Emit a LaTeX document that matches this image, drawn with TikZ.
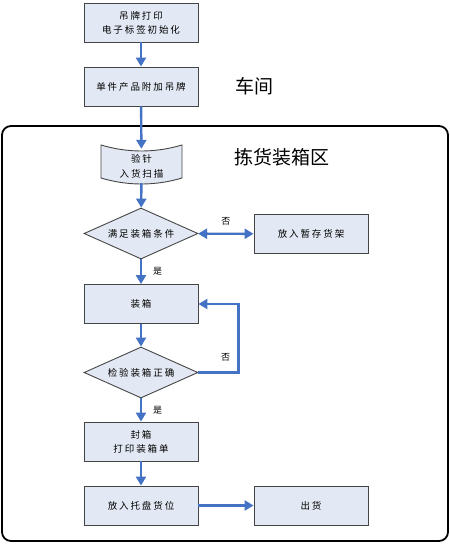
\documentclass[tikz,border=0pt]{standalone}
\usepackage{fontspec}
\usetikzlibrary{arrows.meta,shapes.geometric}
\newfontfamily\cjk[LetterSpace=20]{Noto Sans CJK SC}
\newfontfamily\cjkbig{Noto Sans CJK SC}
\definecolor{boxfill}{HTML}{E3E9F4}
\definecolor{boxline}{HTML}{454545}
\definecolor{flowblue}{HTML}{4472C4}

\begin{document}
\begin{tikzpicture}[x=1pt, y=-1pt,
    stepbox/.style={draw=boxline, fill=boxfill, line width=0.9pt, minimum width=114pt, minimum height=39pt,
        inner sep=0pt, align=center, font=\cjk\fontsize{9.5}{14}\selectfont},
    choice/.style={stepbox, diamond, aspect=2.2, minimum height=51pt},
    flow/.style={draw=flowblue, line width=2.4pt, -{Triangle[length=9pt,width=10pt]}},
    yesno/.style={font=\cjk\fontsize{9}{9}\selectfont, inner sep=0pt},
    area/.style={font=\cjkbig\fontsize{19}{19}\selectfont}]
    \useasboundingbox[fill=white] (0,0) rectangle (450,544);

    % Workshop
    \node[stepbox] (tag) at (141,22.5) {吊牌打印\\电子标签初始化};
    \node[stepbox] (attach) at (141,86.5) {单件产品附加吊牌};
    \node[area] (shop) at (254,86) {车间};

    % Picking and packing area
    \draw[line width=1.8pt, rounded corners=9pt] (2,126) rectangle (448,541);
    \node[area] (zone) at (282,157) {拣货装箱区};

    % Scan (tape shape)
    \draw[draw=boxline, fill=boxfill, line width=0.9pt] (101,145) .. controls (128,153) and (155,153) .. (182,145)
        -- (182,178) .. controls (155,186) and (128,186) .. (101,178) -- cycle;
    \node[align=center, font=\cjk\fontsize{9.5}{15}\selectfont, minimum width=81pt, minimum height=34pt, inner sep=0pt]
        (scan) at (141.5,166) {验针\\入货扫描};

    \node[choice] (fit) at (141,233.5) {满足装箱条件};
    \node[stepbox] (shelf) at (311,234) {放入暂存货架};
    \node[stepbox] (pack) at (141,304) {装箱};
    \node[choice] (check) at (141,372.5) {检验装箱正确};
    \node[stepbox] (seal) at (141,441.5) {封箱\\打印装箱单};
    \node[stepbox] (pallet) at (141,505.5) {放入托盘货位};
    \node[stepbox] (ship) at (311,505.5) {出货};

    % Flow
    \draw[flow] (tag) -- (attach);
    \draw[flow] (attach) -- (scan);
    \draw[flow] (scan) -- (fit);
    \draw[flow, {Triangle[length=9pt,width=10pt]}-{Triangle[length=9pt,width=10pt]}] (fit) -- (shelf)
        node[yesno, midway, above=7pt] {否};
    \draw[flow] (fit) -- (pack) node[yesno, midway, right=11pt] {是};
    \draw[flow] (pack) -- (check);
    \draw[flow] (check.east) -- ++(40,0) node[yesno, pos=0.68, above=10pt] {否} |- (pack.east);
    \draw[flow] (check) -- (seal) node[yesno, midway, right=11pt] {是};
    \draw[flow] (seal) -- (pallet);
    \draw[flow] (pallet) -- (ship);

\end{tikzpicture}
\end{document}
